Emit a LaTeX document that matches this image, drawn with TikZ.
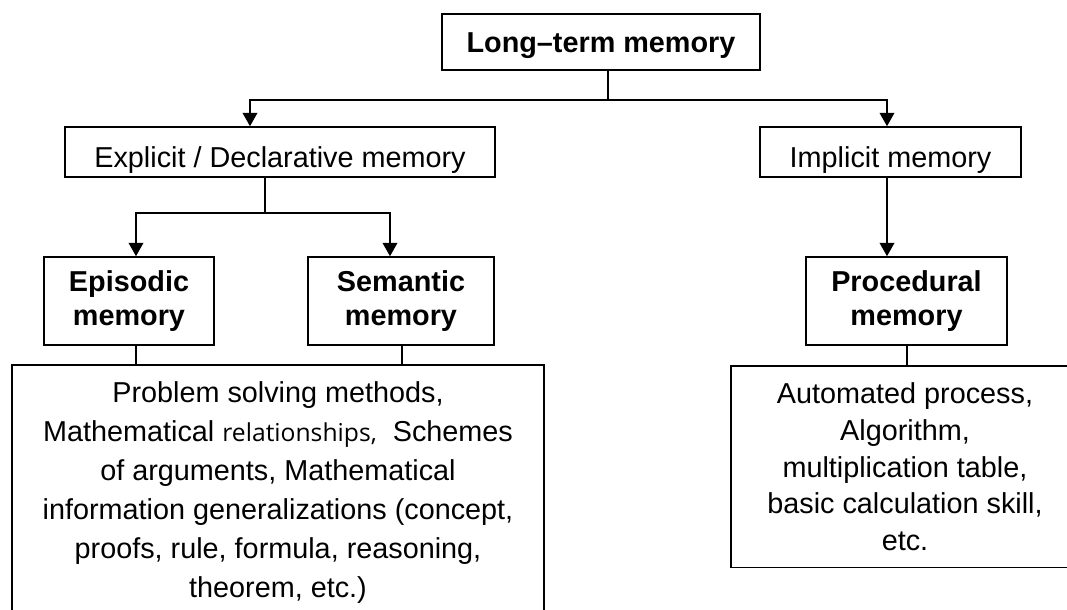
\documentclass[tikz,border=0pt]{standalone}
\usepackage{fontspec}
\setmainfont{Liberation Sans}
\newfontfamily\osfont{Open Sans}
\usetikzlibrary{arrows.meta}
\begin{document}
\begin{tikzpicture}[x=0.75pt,y=-0.75pt,
  box/.style={draw, line width=1.2pt, inner sep=0pt, align=center},
  headbox/.style={box, font=\bfseries\fontsize{21.6pt}{25pt}\selectfont,
    text height=15.5pt, text depth=0pt},
  kindbox/.style={box, font=\fontsize{21.6pt}{25pt}\selectfont,
    minimum height=37.5pt, text height=22.5pt, text depth=0pt},
  subbox/.style={box, font=\bfseries\fontsize{21.6pt}{25.5pt}\selectfont,
    minimum height=66pt},
  listbox/.style={box, anchor=north, inner xsep=4pt, inner ysep=12.75pt},
  link/.style={line width=1.2pt},
  arr/.style={link, -{Triangle[width=11pt,length=10pt]}}
]
\useasboundingbox (0,0) rectangle (1067,610);
\clip (0,0) rectangle (1067,610);

% boxes
\node[headbox, minimum width=238.5pt, minimum height=42pt] (ltm) at (601,42) {Long–term memory};
\node[kindbox, minimum width=322.5pt] (expl) at (280,152) {Explicit / Declarative memory};
\node[kindbox, minimum width=195.75pt] (impl) at (890.5,152) {Implicit memory};
\node[subbox, minimum width=127.5pt] (epi) at (129,301) {Episodic\\memory};
\node[subbox, minimum width=139.5pt] (sem) at (401,301) {Semantic\\memory};
\node[subbox, minimum width=150.75pt] (proc) at (906.5,301) {Procedural\\memory};
\node[listbox, minimum width=399pt, font=\fontsize{21.6pt}{29.25pt}\selectfont] (know) at (278,364)
  {Problem solving methods,\\
   Mathematical {\osfont\fontsize{18.5pt}{29.25pt}\selectfont relationships,}\ \ Schemes\\
   of arguments, Mathematical\\
   information generalizations (concept,\\
   proofs, rule, formula, reasoning,\\
   theorem, etc.)};
\node[listbox, minimum width=261pt, font=\fontsize{21.6pt}{27.5pt}\selectfont] (skill) at (905,365)
  {Automated process,\\
   Algorithm,\\
   multiplication table,\\
   basic calculation skill,\\
   etc.};

% branch points
\coordinate (j0) at (608,100);
\coordinate (lt) at (250,100);
\coordinate (rt) at (887,100);
\coordinate (b0) at (265,213);
\coordinate (e1) at (136,213);
\coordinate (s1) at (390,213);
\coordinate (s2) at (402,345);
\coordinate (p2) at (907,345);

% long-term memory to its two kinds
\draw[link] (ltm.south -| j0) -- (j0);
\draw[arr] (rt) -- (lt) -- (lt |- expl.north);
\draw[arr] (lt) -- (rt) -- (rt |- impl.north);

% explicit memory to episodic and semantic
\draw[link] (expl.south -| b0) -- (b0);
\draw[arr] (s1) -- (e1) -- (e1 |- epi.north);
\draw[arr] (e1) -- (s1) -- (s1 |- sem.north);

% implicit memory to procedural
\draw[arr] (impl.south -| rt) -- (rt |- proc.north);

% memory types to their contents
\draw[link] (epi.south -| e1) -- (e1 |- know.north);
\draw[link] (sem.south -| s2) -- (s2 |- know.north);
\draw[link] (proc.south -| p2) -- (p2 |- skill.north);
\end{tikzpicture}
\end{document}
